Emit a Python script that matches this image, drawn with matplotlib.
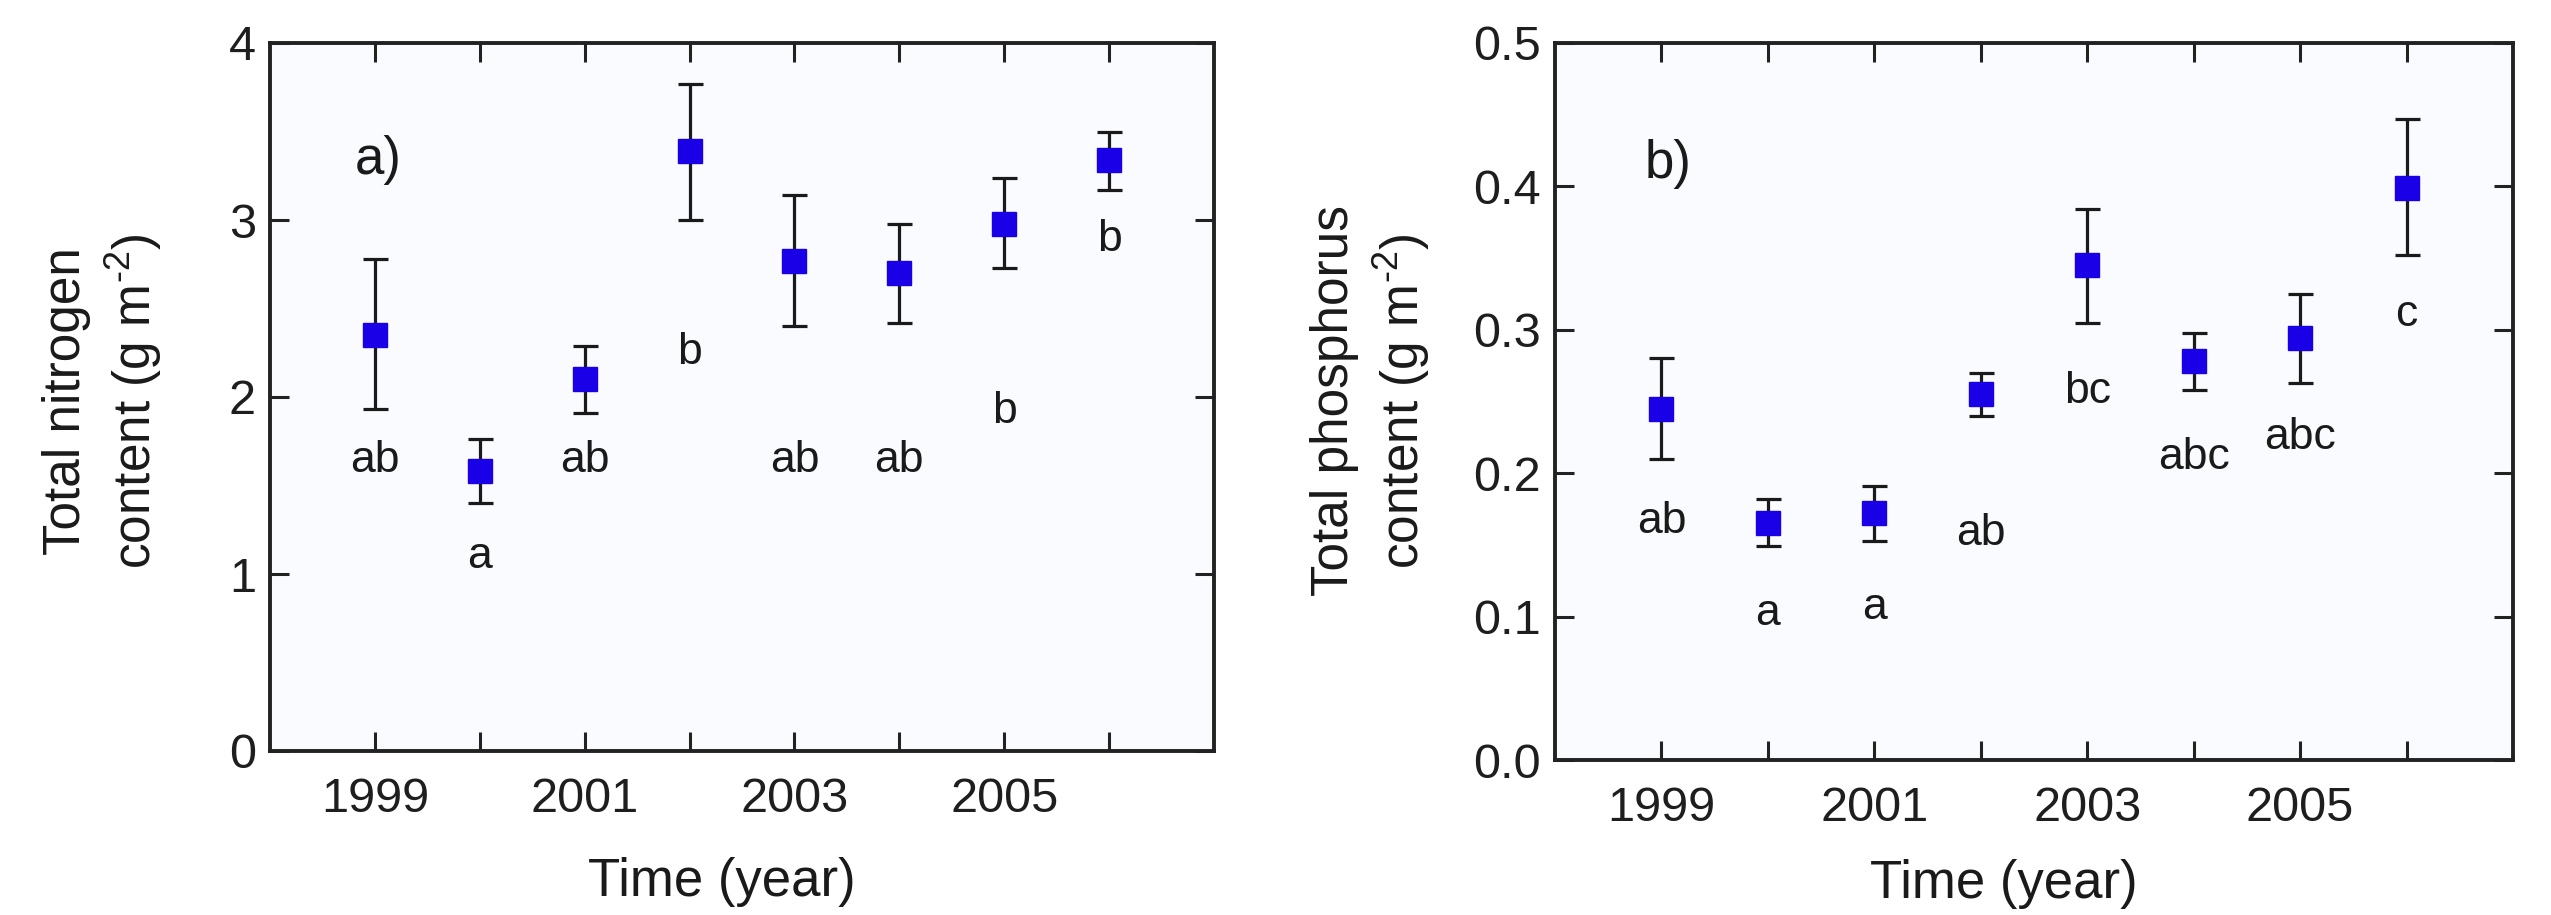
import matplotlib
matplotlib.use("Agg")
import matplotlib.pyplot as plt

plt.rcParams['font.family'] = ['Liberation Sans', 'DejaVu Sans']
plt.rcParams['mathtext.fontset'] = 'custom'
plt.rcParams['mathtext.rm'] = 'Liberation Sans'
plt.rcParams['mathtext.it'] = 'Liberation Sans:italic'
plt.rcParams['mathtext.default'] = 'regular'

# ---- data ----
years = [1999, 2000, 2001, 2002, 2003, 2004, 2005, 2006]
tick_labels = ['1999', '', '2001', '', '2003', '', '2005', '']

n_mean = [2.35, 1.58, 2.10, 3.39, 2.77, 2.70, 2.98, 3.34]
n_upper = [2.78, 1.76, 2.29, 3.77, 3.14, 2.98, 3.24, 3.50]
n_lower = [1.93, 1.40, 1.91, 3.00, 2.40, 2.42, 2.73, 3.17]
n_letters = ['ab', 'a', 'ab', 'b', 'ab', 'ab', 'b', 'b']
n_letter_y = [1.64, 1.10, 1.64, 2.25, 1.64, 1.64, 1.92, 2.89]

p_mean = [0.245, 0.165, 0.172, 0.255, 0.345, 0.278, 0.294, 0.399]
p_upper = [0.280, 0.182, 0.191, 0.270, 0.384, 0.298, 0.325, 0.447]
p_lower = [0.210, 0.149, 0.153, 0.240, 0.305, 0.258, 0.263, 0.352]
p_letters = ['ab', 'a', 'a', 'ab', 'bc', 'abc', 'abc', 'c']
p_letter_y = [0.166, 0.1025, 0.106, 0.158, 0.257, 0.211, 0.225, 0.311]

n_yticks = [0, 1, 2, 3, 4]
p_yticks = [0.0, 0.1, 0.2, 0.3, 0.4, 0.5]

marker_color = '#1a00e6'
face = '#f9fbfe'

W, H = 2551, 915
fig = plt.figure(figsize=(W / 100, H / 100), dpi=100)
fig.patch.set_facecolor('white')

def px_axes(l, t, r, b):
    return fig.add_axes([l / W, 1 - b / H, (r - l) / W, (b - t) / H])

axA = px_axes(270, 43, 1214, 751)
axB = px_axes(1555, 43, 2513, 760)

def style(ax, yticks, ylim, yfmt):
    ax.set_facecolor(face)
    ax.set_xlim(1998, 2007)
    ax.set_ylim(*ylim)
    ax.set_xticks(years)
    ax.set_xticklabels(tick_labels)
    ax.set_yticks(yticks)
    ax.set_yticklabels([yfmt.format(v) for v in yticks])
    for s in ax.spines.values():
        s.set_linewidth(2.8)
        s.set_color('#222222')
    ax.tick_params(direction='in', length=14, width=2.2, color='#222222',
                   top=True, right=True, labelsize=35, labelcolor='#1e1e1e')
    ax.tick_params(axis='x', pad=19)
    ax.tick_params(axis='y', pad=10)

def draw(ax, mean, up, lo, letters, ly):
    yerr = [[m - l for m, l in zip(mean, lo)], [u - m for m, u in zip(mean, up)]]
    ax.errorbar(years, mean, yerr=yerr, fmt='s', color=marker_color,
                ms=17.5, mec=marker_color, ecolor='#1a1a1a', elinewidth=2.3,
                capsize=9, capthick=2.3, zorder=3)
    for x, t, y in zip(years, letters, ly):
        ax.text(x, y, t, ha='center', va='center', fontsize=32, color='#1a1a1a')

style(axA, n_yticks, (0, 4), '{:g}')
style(axB, p_yticks, (0, 0.5), '{:.1f}')
draw(axA, n_mean, n_upper, n_lower, n_letters, n_letter_y)
draw(axB, p_mean, p_upper, p_lower, p_letters, p_letter_y)

axA.text(0.090, 0.815, 'a)', transform=axA.transAxes, fontsize=38, color='#1a1a1a')
axB.text(0.094, 0.812, 'b)', transform=axB.transAxes, fontsize=38, color='#1a1a1a')

sup = r'$^{\text{-}2}$'
fig.text(103 / W, 1 - 401 / H, 'Total nitrogen\ncontent (g m' + sup + ')', rotation=90,
         ha='center', va='center', fontsize=37, color='#1a1a1a', linespacing=1.25)
fig.text(1371 / W, 1 - 401 / H, 'Total phosphorus\ncontent (g m' + sup + ')', rotation=90,
         ha='center', va='center', fontsize=37, color='#1a1a1a', linespacing=1.25)
fig.text(722 / W, 1 - 882 / H, 'Time (year)', ha='center', va='center',
         fontsize=38, color='#1a1a1a')
fig.text(2004 / W, 1 - 884 / H, 'Time (year)', ha='center', va='center',
         fontsize=38, color='#1a1a1a')

fig.savefig('out.png', dpi=100, facecolor='white')
